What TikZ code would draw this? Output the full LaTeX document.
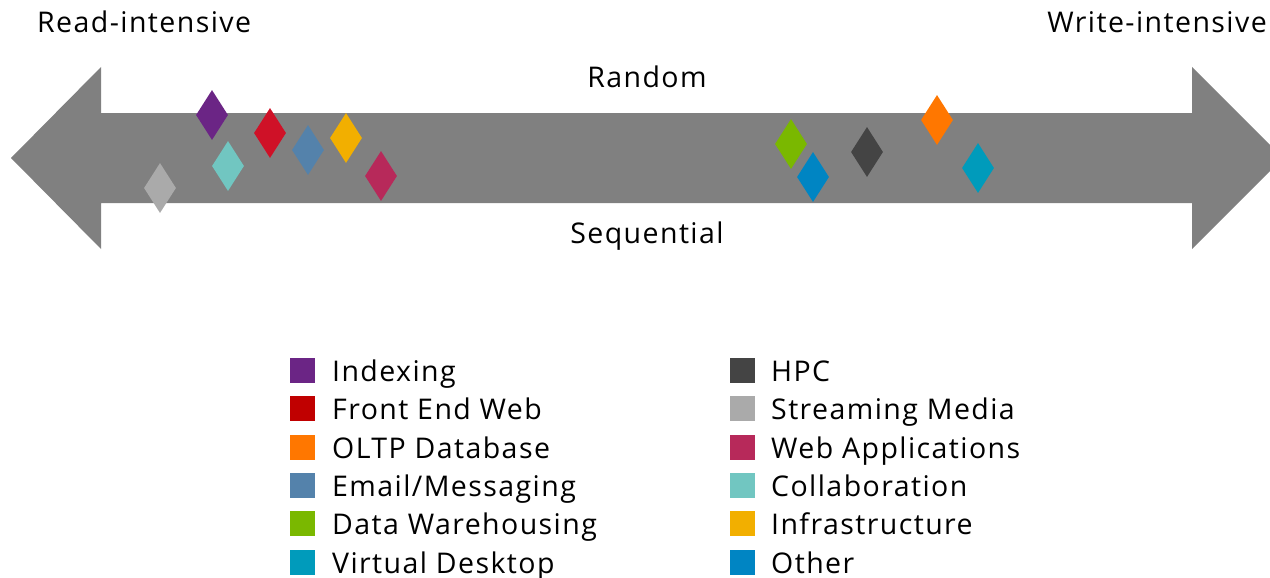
\documentclass[tikz,border=0pt]{standalone}
\usepackage{fontspec}
\setmainfont[LetterSpace=5]{Open Sans}
\usetikzlibrary{shapes.geometric}
\definecolor{arrowgray}{HTML}{808080}
\definecolor{cIdx}{HTML}{6B2585}
\definecolor{cFew}{HTML}{C00000}
\definecolor{cFewD}{HTML}{CF1127}
\definecolor{cOltp}{HTML}{FF7700}
\definecolor{cMail}{HTML}{5482AB}
\definecolor{cDw}{HTML}{7AB800}
\definecolor{cVd}{HTML}{009BBB}
\definecolor{cHpc}{HTML}{444444}
\definecolor{cStr}{HTML}{AAAAAA}
\definecolor{cWeb}{HTML}{B7295A}
\definecolor{cCol}{HTML}{71C6C1}
\definecolor{cInf}{HTML}{F2AF00}
\definecolor{cOth}{HTML}{0085C3}
\begin{document}
\begin{tikzpicture}[x=1pt,y=-1pt,
  dia/.style={diamond,minimum width=32pt,minimum height=50pt,inner sep=0pt,draw=none},
  sq/.style={rectangle,minimum size=25pt,inner sep=0pt,draw=none},
  lbl/.style={font=\fontsize{28.5}{32}\selectfont,inner sep=0pt,text=black},
  lt/.style={lbl,anchor=base west}]
\useasboundingbox (0,0) rectangle (1270,578);
\begin{scope}
\clip (0,0) rectangle (1270,578);
\fill[arrowgray] (11,158) -- (101,67) -- (101,113) -- (1192,113) -- (1192,67) -- (1283,158) -- (1192,249) -- (1192,203) -- (101,203) -- (101,249) -- cycle;
\end{scope}
% labels
\node[lbl,anchor=base west] (read) at (37,33) {Read-intensive};
\node[lbl,anchor=base east] (write) at (1267,33) {Write-intensive};
\node[lbl,anchor=base] (random) at (647,88) {Random};
\node[lbl,anchor=base] (seq) at (647,243) {Sequential};
% diamonds
\node[dia,fill=cStr] (dStr) at (160,188) {};
\node[dia,fill=cIdx] (dIdx) at (212,115) {};
\node[dia,fill=cCol] (dCol) at (228,166) {};
\node[dia,fill=cFewD] (dFew) at (270,133) {};
\node[dia,fill=cMail] (dMail) at (308,150) {};
\node[dia,fill=cInf] (dInf) at (346,138) {};
\node[dia,fill=cWeb] (dWeb) at (381,176) {};
\node[dia,fill=cDw] (dDw) at (791,144) {};
\node[dia,fill=cOth] (dOth) at (813,177) {};
\node[dia,fill=cHpc] (dHpc) at (867,152) {};
\node[dia,fill=cOltp] (dOltp) at (937,120) {};
\node[dia,fill=cVd] (dVd) at (978,168) {};
% legend left
\node[sq,fill=cIdx] (s1) at (302.5,370.5) {};
\node[lt] (t1) at (332,381.5) {Indexing};
\node[sq,fill=cFew] (s2) at (302.5,408.8) {};
\node[lt] (t2) at (332,419.8) {Front End Web};
\node[sq,fill=cOltp] (s3) at (302.5,447.1) {};
\node[lt] (t3) at (332,458.1) {OLTP Database};
\node[sq,fill=cMail] (s4) at (302.5,485.4) {};
\node[lt] (t4) at (332,496.4) {Email/Messaging};
\node[sq,fill=cDw] (s5) at (302.5,523.7) {};
\node[lt] (t5) at (332,534.7) {Data Warehousing};
\node[sq,fill=cVd] (s6) at (302.5,562) {};
\node[lt] (t6) at (332,573) {Virtual Desktop};
% legend right
\node[sq,fill=cHpc] (r1) at (742,370.5) {};
\node[lt] (u1) at (771,381.5) {HPC};
\node[sq,fill=cStr] (r2) at (742,408.8) {};
\node[lt] (u2) at (771,419.8) {Streaming Media};
\node[sq,fill=cWeb] (r3) at (742,447.1) {};
\node[lt] (u3) at (771,458.1) {Web Applications};
\node[sq,fill=cCol] (r4) at (742,485.4) {};
\node[lt] (u4) at (771,496.4) {Collaboration};
\node[sq,fill=cInf] (r5) at (742,523.7) {};
\node[lt] (u5) at (771,534.7) {Infrastructure};
\node[sq,fill=cOth] (r6) at (742,562) {};
\node[lt] (u6) at (771,573) {Other};
\end{tikzpicture}
\end{document}
